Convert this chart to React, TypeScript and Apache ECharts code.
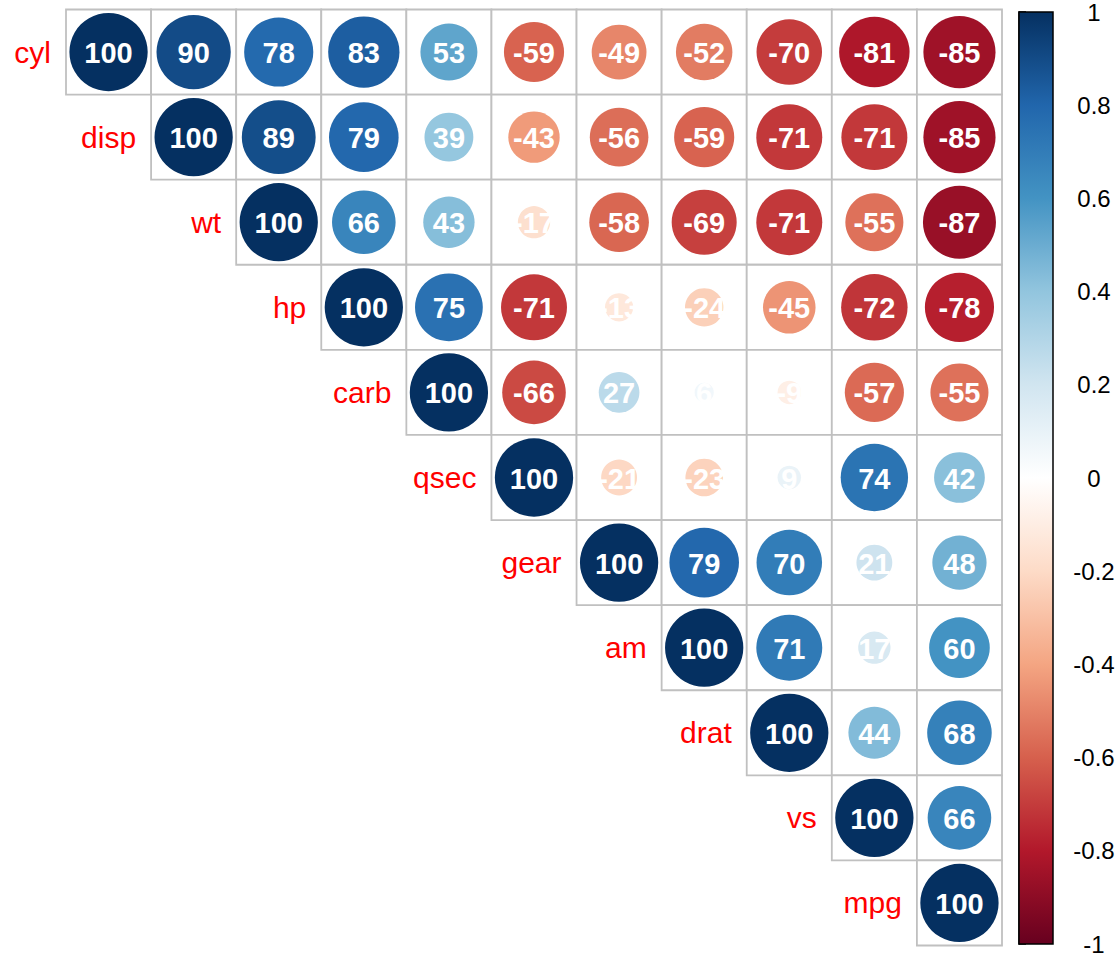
import React, { useEffect, useRef } from "react";
import * as echarts from "echarts";

const variables = ["cyl", "disp", "wt", "hp", "carb", "qsec", "gear", "am", "drat", "vs", "mpg"];

// upper-triangle correlation rows (x100), each row starts at the diagonal
const rowCyl = [100, 90, 78, 83, 53, -59, -49, -52, -70, -81, -85];
const rowDisp = [100, 89, 79, 39, -43, -56, -59, -71, -71, -85];
const rowWt = [100, 66, 43, -17, -58, -69, -71, -55, -87];
const rowHp = [100, 75, -71, -13, -24, -45, -72, -78];
const rowCarb = [100, -66, 27, 6, -9, -57, -55];
const rowQsec = [100, -21, -23, 9, 74, 42];
const rowGear = [100, 79, 70, 21, 48];
const rowAm = [100, 71, 17, 60];
const rowDrat = [100, 44, 68];
const rowVs = [100, 66];
const rowMpg = [100];
const rows = [rowCyl, rowDisp, rowWt, rowHp, rowCarb, rowQsec, rowGear, rowAm, rowDrat, rowVs, rowMpg];

const paletteColors = ["#67001F", "#B2182B", "#D6604D", "#F4A582", "#FDDBC7", "#FFFFFF", "#D1E5F0", "#92C5DE", "#4393C3", "#2166AC", "#053061"];

const FONT = "'Liberation Sans', Arial, Helvetica, sans-serif";

export default function App() {
  const ref = useRef<HTMLDivElement>(null);
  useEffect(() => {
    if (!ref.current) return;
    const chart = echarts.init(ref.current, null, { renderer: "svg" });
    const data: number[][] = [];
    rows.forEach((row, r) => {
      row.forEach((v, k) => data.push([r + k, r, v / 100]));
    });
    const option: any = {
      animation: false,
      backgroundColor: "#ffffff",
      grid: [
        { left: 66, top: 9.5, width: 936, height: 936 },
        { left: 1019, top: 9.5, width: 34, height: 936 },
      ],
      xAxis: [
        { type: "category", data: variables, gridIndex: 0, show: false },
        { type: "value", gridIndex: 1, min: 0, max: 1, show: false },
      ],
      yAxis: [
        { type: "category", data: variables, gridIndex: 0, inverse: true, show: false },
        {
          type: "value",
          gridIndex: 1,
          min: -1,
          max: 1,
          interval: 0.2,
          position: "right",
          splitLine: { show: false },
          axisLine: { show: true, lineStyle: { color: "#000", width: 1.5 } },
          axisTick: { show: true, length: 7, lineStyle: { color: "#000", width: 1.5 } },
          axisLabel: {
            margin: 41,
            align: "center",
            color: "#000",
            fontSize: 24,
            fontFamily: FONT,
            formatter: (v: number) => String(+v.toFixed(1)),
          },
        },
      ],
      visualMap: {
        show: false,
        type: "continuous",
        min: -1,
        max: 1,
        dimension: 2,
        seriesIndex: 0,
        inRange: { color: paletteColors },
      },
      series: [
        {
          type: "custom",
          xAxisIndex: 0,
          yAxisIndex: 0,
          data,
          renderItem: (params: any, api: any) => {
            const x = api.value(0);
            const y = api.value(1);
            const v = api.value(2);
            const c = api.coord([x, y]);
            const s = api.size([1, 1]);
            const w = s[0];
            const h = s[1];
            const rad = (0.92 * w * Math.sqrt(Math.abs(v))) / 2;
            const children: any[] = [
              {
                type: "rect",
                shape: { x: c[0] - w / 2, y: c[1] - h / 2, width: w, height: h },
                style: { fill: "#fff", stroke: "#c0c0c0", lineWidth: 1.8 },
              },
              {
                type: "circle",
                shape: { cx: c[0], cy: c[1], r: rad },
                style: { fill: api.visual("color") },
              },
              {
                type: "text",
                x: c[0],
                y: c[1] + 1,
                style: {
                  text: String(Math.round(v * 100)),
                  fill: "#fff",
                  font: `bold 29px ${FONT}`,
                  align: "center",
                  verticalAlign: "middle",
                },
              },
            ];
            if (x === y) {
              children.push({
                type: "text",
                x: c[0] - w / 2 - 15,
                y: c[1],
                style: {
                  text: variables[y],
                  fill: "#ff0000",
                  font: `30px ${FONT}`,
                  align: "right",
                  verticalAlign: "middle",
                },
              });
            }
            return { type: "group", children };
          },
        },
        {
          type: "custom",
          xAxisIndex: 1,
          yAxisIndex: 1,
          data: [[0, -1, 1, 1]],
          renderItem: (params: any, api: any) => {
            const p0 = api.coord([api.value(0), api.value(3)]);
            const p1 = api.coord([api.value(2), api.value(1)]);
            return {
              type: "rect",
              shape: { x: p0[0], y: p0[1], width: p1[0] - p0[0], height: p1[1] - p0[1] },
              style: {
                fill: new echarts.graphic.LinearGradient(
                  0, 0, 0, 1,
                  paletteColors
                    .slice()
                    .reverse()
                    .map((col, i) => ({ offset: i / (paletteColors.length - 1), color: col }))
                ),
                stroke: "#000",
                lineWidth: 1.5,
              },
            };
          },
        },
      ],
    };
    chart.setOption(option);
    return () => chart.dispose();
  }, []);
  return (
    <div
      ref={ref}
      style={{ position: "absolute", left: 0, top: 0, width: 1120, height: 956, background: "#fff" }}
    />
  );
}
